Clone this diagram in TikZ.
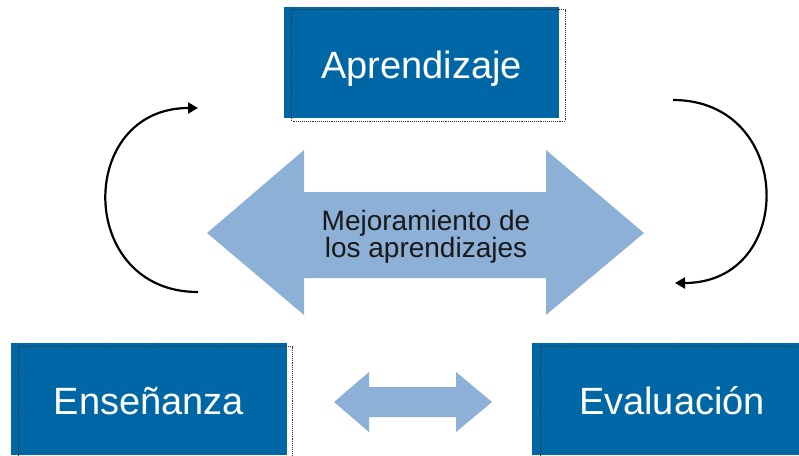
\documentclass[tikz,border=0pt]{standalone}
\usepackage{fontspec}
\setmainfont{Liberation Sans}
\usetikzlibrary{arrows.meta}
\definecolor{boxblue}{RGB}{0,103,166}
\definecolor{arrowblue}{RGB}{141,176,215}

\begin{document}
\begin{tikzpicture}[x=1pt,y=-1pt,>={Triangle[length=10pt,width=11pt]},
  box/.style={fill=boxblue,text=white,inner sep=0pt,font=\fontsize{38}{40}\selectfont,
    text height=31pt,text depth=0pt},
  frame/.style={densely dotted,line width=0.9pt,black!80},
  bigarrow/.style={fill=arrowblue},
  roundarrow/.style={->,line width=2.2pt,looseness=1.7}]
  \useasboundingbox (0,0) rectangle (799,455);

  % the three boxes
  \node[box,minimum width=275pt,minimum height=111pt] (apr) at (421.5,62.5) {Aprendizaje};
  \node[box,minimum width=276pt,minimum height=112pt] (ens) at (149,399) {Enseñanza};
  \node[box,minimum width=280pt,minimum height=112pt] (eva) at (672,399) {Evaluación};
  \draw[frame] ([shift={(8,3)}]apr.north west) rectangle ([shift={(6,3)}]apr.south east);
  \draw[frame] ([shift={(8,4)}]ens.north west) rectangle ([shift={(5,4)}]ens.south east);
  \draw[frame] ([shift={(9,4)}]eva.north west) rectangle ([shift={(6,4)}]eva.south east);

  % double arrows
  \fill[bigarrow] (207,233) -- (304,150) -- (304,192) -- (546,192) -- (546,150) -- (644,233)
    -- (546,315) -- (546,278) -- (304,278) -- (304,315) -- cycle;
  \fill[bigarrow] (334,402) -- (369,372) -- (369,387) -- (456,387) -- (456,372) -- (492,402)
    -- (456,432) -- (456,417) -- (369,417) -- (369,432) -- cycle;
  \node[align=center,text=black!90,font=\fontsize{28}{25}\selectfont] (mejora) at (426,237)
    {Mejoramiento de\\los aprendizajes};

  % turning arrows
  \coordinate (lb) at (198,292);
  \coordinate (lt) at (198,108);
  \coordinate (rt) at (673,100);
  \coordinate (rb) at (675,283);
  \draw[roundarrow] (lb) to[out=180,in=180] (lt);
  \draw[roundarrow] (rt) to[out=0,in=0] (rb);
\end{tikzpicture}
\end{document}
